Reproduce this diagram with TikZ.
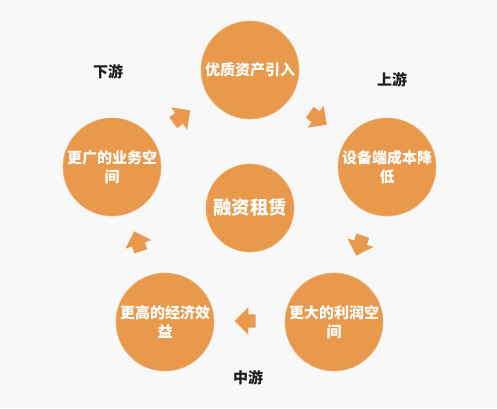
\documentclass[tikz,border=0pt]{standalone}
\usepackage{fontspec}
\newfontfamily\cjk{Noto Sans CJK SC}
\usetikzlibrary{shapes.arrows,calc}
\definecolor{bgc}{HTML}{F8F8F8}
\definecolor{circfill}{HTML}{E8994B}
\definecolor{labc}{HTML}{1E1E1E}
\tikzset{
  circ/.style={circle, fill=circfill, draw=circfill!75!white, line width=0.6pt,
    minimum size=98pt, inner sep=0pt, text=white, align=center,
    font=\cjk\bfseries\fontsize{15}{19}\selectfont},
  centrecirc/.style={circ, minimum size=88pt, font=\cjk\bfseries\fontsize{18.5}{22}\selectfont},
  flowarrow/.style={single arrow, fill=circfill, draw=none, inner xsep=0pt,
    inner ysep=6.5pt, single arrow head extend=7pt, minimum height=21pt,
    single arrow tip angle=90, shape border uses incircle=false},
  lab/.style={text=labc, font=\cjk\bfseries\fontsize{15}{18}\selectfont, inner sep=0pt}
}
\begin{document}
\begin{tikzpicture}[x=1pt,y=-1pt]
\useasboundingbox (0,0) rectangle (497,408);
\fill[bgc] (0,0) rectangle (497,408);
\node[circ] (top) at (250,70) {优质资产引入};
\node[circ] (right) at (387,167) {设备端成本降\\低};
\node[circ] (br) at (334,322) {更大的利润空\\间};
\node[circ] (bl) at (165,322) {更高的经济效\\益};
\node[circ] (left) at (112,167) {更广的业务空\\间};
\node[centrecirc] (mid) at (250,208) {融资租赁};
\node[flowarrow, rotate=36] (a1) at ($(left)!0.5!(top)+(-2,0)$) {};
\node[flowarrow, rotate=-36] (a2) at ($(top)!0.5!(right)+(-3,-2)$) {};
\node[flowarrow, rotate=-108] (a3) at ($(right)!0.5!(br)+(0,-2)$) {};
\node[flowarrow, rotate=180] (a4) at ($(br)!0.5!(bl)+(-1,-1)$) {};
\node[flowarrow, rotate=108] (a5) at ($(bl)!0.5!(left)+(0,0)$) {};
\node[lab] (down) at (108,72) {下游};
\node[lab] (up) at (392,80) {上游};
\node[lab] (midstream) at (248,378) {中游};
\end{tikzpicture}
\end{document}
